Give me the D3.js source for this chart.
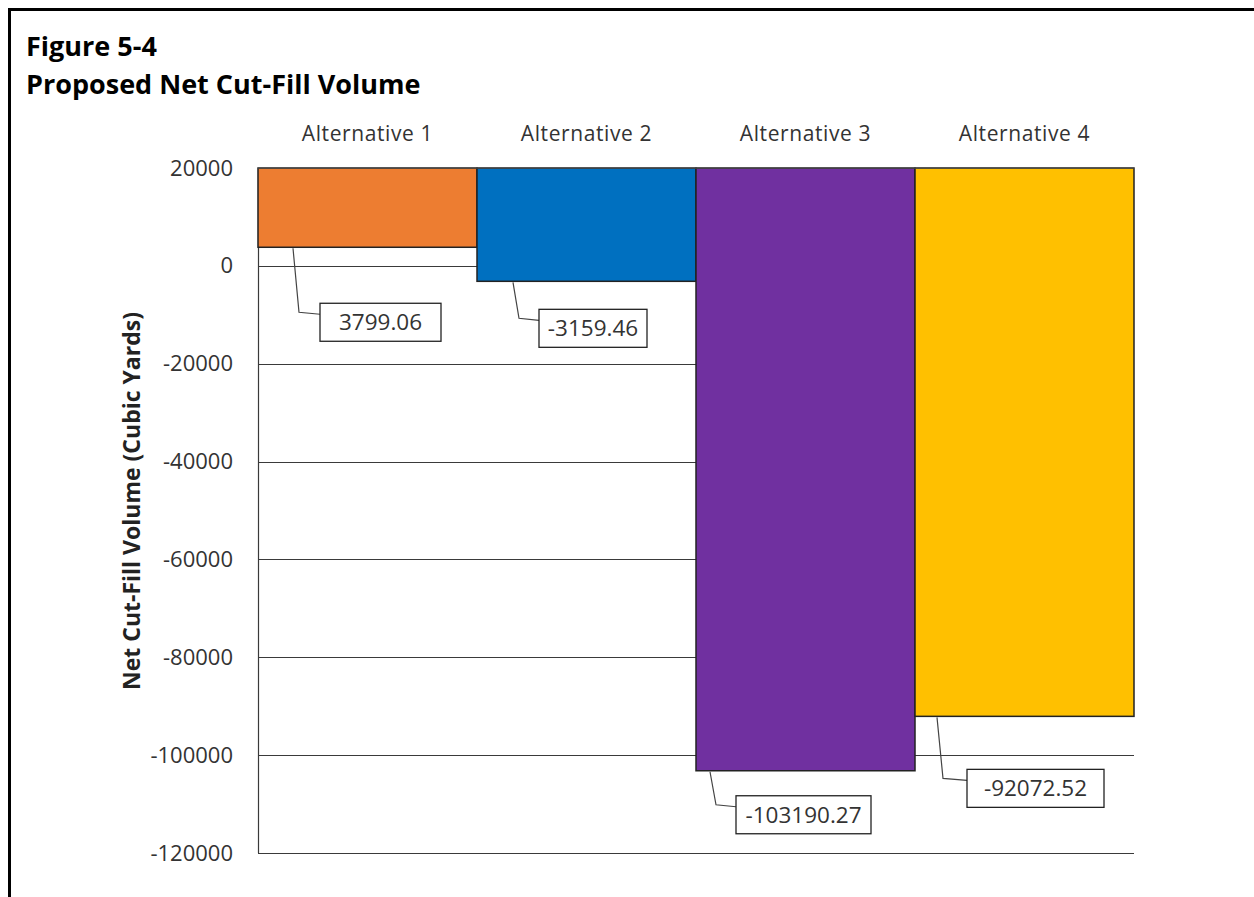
<!DOCTYPE html>
<html>
<head>
<meta charset="utf-8">
<script src="https://cdn.jsdelivr.net/npm/d3@7"></script>
<style>
  html, body { margin: 0; padding: 0; background: #fff; }
  svg { display: block; }
</style>
</head>
<body>
<svg id="chart" width="1254" height="897"></svg>
<script>
// Chart data
const categories = ["Alternative 1", "Alternative 2", "Alternative 3", "Alternative 4"];
const netVolumes = [3799.06, -3159.46, -103190.27, -92072.52];
const barColors = ["#ED7D31", "#0070C0", "#7030A0", "#FFC000"];
const yTicks = [20000, 0, -20000, -40000, -60000, -80000, -100000, -120000];
const titleLines = ["Figure 5-4", "Proposed Net Cut-Fill Volume"];
const yAxisTitle = "Net Cut-Fill Volume (Cubic Yards)";

// Callout placement for each data label: leader start within the band,
// box left offset within the band, box top offset below the bar end, box width
const calloutLayout = [
  { lead: 35, dx: 62, dy: 56, w: 121 },
  { lead: 36, dx: 62, dy: 28, w: 108 },
  { lead: 14, dx: 40, dy: 25, w: 135 },
  { lead: 22, dx: 52, dy: 53, w: 137 }
];

const font = "'Open Sans', 'Noto Sans', sans-serif";
const svg = d3.select("#chart");

// Plain hyphen-minus for negative numbers
const locale = d3.formatLocale({ decimal: ".", thousands: ",", grouping: [3], currency: ["$", ""], minus: "-" });
const tickFmt = locale.format("d");
const labelFmt = locale.format(".2f");

// Frame lines (top and left)
svg.append("line").attr("x1", 8).attr("x2", 1254).attr("y1", 9.5).attr("y2", 9.5)
  .attr("stroke", "#000").attr("stroke-width", 3);
svg.append("line").attr("x1", 9.5).attr("x2", 9.5).attr("y1", 8).attr("y2", 897)
  .attr("stroke", "#000").attr("stroke-width", 3);

// Titles
svg.selectAll("text.title").data(titleLines).join("text")
  .attr("class", "title")
  .attr("x", 26)
  .attr("y", (d, i) => 56 + i * 38)
  .attr("font-family", font)
  .attr("font-weight", "bold")
  .attr("font-size", 27)
  .attr("fill", "#000")
  .text(d => d);

const plot = { left: 258, right: 1134, top: 168, bottom: 853 };

const x = d3.scaleBand().domain(categories).range([plot.left, plot.right]).padding(0);
const y = d3.scaleLinear().domain([-120000, 20000]).range([plot.bottom, plot.top]);

// Gridlines
svg.append("g").selectAll("line").data(yTicks).join("line")
  .attr("x1", plot.left).attr("x2", plot.right)
  .attr("y1", d => Math.round(y(d)) + 0.5).attr("y2", d => Math.round(y(d)) + 0.5)
  .attr("stroke", "#3a3a3a").attr("stroke-width", 1.2);

// Vertical axis line
svg.append("line")
  .attr("x1", plot.left + 0.5).attr("x2", plot.left + 0.5)
  .attr("y1", plot.top).attr("y2", plot.bottom)
  .attr("stroke", "#3a3a3a").attr("stroke-width", 1.2);

// Y axis tick labels
const yAxis = d3.axisLeft(y).tickValues(yTicks).tickSize(0).tickPadding(25).tickFormat(tickFmt);
const gy = svg.append("g").attr("transform", `translate(${plot.left},0)`).call(yAxis);
gy.select(".domain").remove();
gy.selectAll("text")
  .attr("font-family", font)
  .attr("font-size", 22)
  .attr("fill", "#333");

// Category labels along the top axis
const xAxis = d3.axisTop(x).tickSize(0).tickPadding(27);
const gx = svg.append("g").attr("transform", `translate(0,${plot.top})`).call(xAxis);
gx.select(".domain").remove();
gx.selectAll("text")
  .attr("font-family", font)
  .attr("font-size", 21)
  .attr("letter-spacing", 0.6)
  .attr("fill", "#333");

// Bars hang from the top of the value axis down to each value
const base = 20000;
svg.append("g").selectAll("rect").data(netVolumes).join("rect")
  .attr("x", (d, i) => x(categories[i]))
  .attr("width", x.bandwidth())
  .attr("y", d => y(base))
  .attr("height", d => y(d) - y(base))
  .attr("fill", (d, i) => barColors[i])
  .attr("stroke", "#222")
  .attr("stroke-width", 1.5);

// Horizontal axis line at top
svg.append("line")
  .attr("x1", plot.left).attr("x2", plot.right)
  .attr("y1", y(base)).attr("y2", y(base))
  .attr("stroke", "#555").attr("stroke-width", 1);

// Data label callouts
const callouts = svg.append("g");
netVolumes.forEach((v, i) => {
  const lay = calloutLayout[i];
  const band = x(categories[i]);
  const yEnd = y(v);
  const boxX = band + lay.dx;
  const boxY = yEnd + lay.dy;
  const w = lay.w;
  const h = 38;
  const sx = band + lay.lead;

  callouts.append("path")
    .attr("d", `M${sx},${yEnd + 1} L${sx + 6},${boxY + 9} L${boxX},${boxY + 11}`)
    .attr("fill", "none")
    .attr("stroke", "#444")
    .attr("stroke-width", 1.2);

  callouts.append("rect")
    .attr("x", boxX).attr("y", boxY)
    .attr("width", w).attr("height", h)
    .attr("fill", "#fff")
    .attr("stroke", "#222")
    .attr("stroke-width", 1.3);

  callouts.append("text")
    .attr("x", boxX + w / 2)
    .attr("y", boxY + h / 2 + 8)
    .attr("font-family", font)
    .attr("font-size", 22.5)
    .attr("fill", "#333")
    .attr("text-anchor", "middle")
    .text(labelFmt(v));
});

// Y axis title
svg.append("text")
  .attr("transform", "translate(140,501) rotate(-90)")
  .attr("text-anchor", "middle")
  .attr("font-family", font)
  .attr("font-weight", "bold")
  .attr("font-size", 23)
  .attr("fill", "#222")
  .text(yAxisTitle);
</script>
</body>
</html>
